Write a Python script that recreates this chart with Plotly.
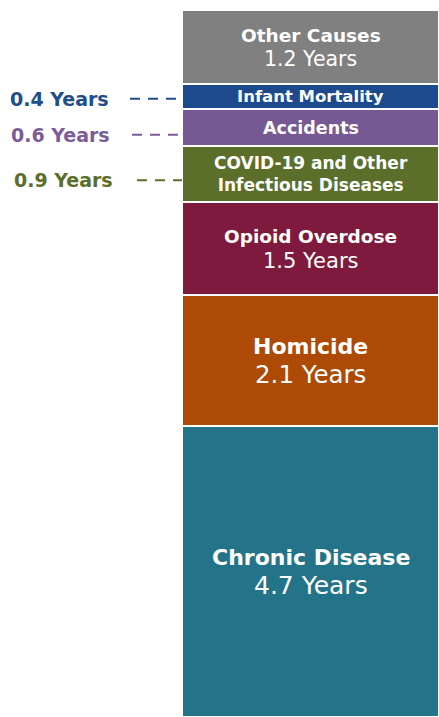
import plotly.graph_objects as go

categories = ["Chronic Disease", "Homicide", "Opioid Overdose",
              "COVID-19 and Other<br>Infectious Diseases", "Accidents",
              "Infant Mortality", "Other Causes"]
years = [4.7, 2.1, 1.5, 0.9, 0.6, 0.4, 1.2]
colors = ["#237489", "#AD4A06", "#7E1A3E", "#5B6E2A", "#765892", "#1C4A8C", "#808080"]
label_colors = ["#237489", "#AD4A06", "#7E1A3E", "#5B6E2A", "#7A5C98", "#1F4E8C", "#808080"]
show_years_inside = [True, True, True, False, False, False, True]
outside_label = [False, False, False, True, True, True, False]

# style (sizes in px)
name_sizes = [22, 22, 18.5, 17, 17.5, 16.5, 18.5]
year_sizes = [25, 24.5, 21, 0, 0, 0, 20.5]
line_gap = [28, 28, 25, 0, 0, 0, 24]
FONT = "DejaVu Sans"
W, H = 439, 717
BAR_LEFT_PX = 182
X_RANGE = [-0.5 - BAR_LEFT_PX / (W - BAR_LEFT_PX), 0.5]

def px2x(px):
    return X_RANGE[0] + px * (X_RANGE[1] - X_RANGE[0]) / W

dash_start_px = {0.4: 130, 0.6: 132, 0.9: 137}
label_right_px = {0.4: 111, 0.6: 112, 0.9: 115}
label_down_px = {0.4: 2, 0.6: 7, 0.9: 6}

total = sum(years)
Y_RANGE = [0, total * H / (H - 10)]
PX_PER_Y = H / (Y_RANGE[1] - Y_RANGE[0])

fig = go.Figure()
for c, v, col in zip(categories, years, colors):
    fig.add_trace(go.Bar(x=[0], y=[v], width=1,
                         marker=dict(color=col, line=dict(color="white", width=2)),
                         hoverinfo="skip", showlegend=False))

cum = 0
for i, (c, v, col) in enumerate(zip(categories, years, colors)):
    mid = cum + v / 2
    if show_years_inside[i]:
        g = line_gap[i] / 2
        fig.add_annotation(x=0, y=mid, yshift=g, text=f"<b>{c}</b>", showarrow=False,
                           font=dict(family=FONT, color="white", size=name_sizes[i]))
        fig.add_annotation(x=0, y=mid, yshift=-g, text=f"{v} Years", showarrow=False,
                           font=dict(family=FONT, color="white", size=year_sizes[i]))
    else:
        fig.add_annotation(x=0, y=mid, text=f"<b>{c}</b>", showarrow=False,
                           font=dict(family=FONT, color="white", size=name_sizes[i]))
    if outside_label[i]:
        ly = mid - label_down_px[v] / PX_PER_Y
        fig.add_shape(type="line", xref="x", yref="y", x0=px2x(dash_start_px[v]), x1=-0.5,
                      y0=ly, y1=ly, line=dict(color=label_colors[i], width=2, dash="10px,8px"))
        fig.add_annotation(x=px2x(label_right_px[v]), y=ly, text=f"<b>{v} Years</b>",
                           showarrow=False, xanchor="right",
                           font=dict(family=FONT, color=label_colors[i], size=19))
    cum += v

fig.update_layout(
    barmode="stack", width=W, height=H, margin=dict(l=0, r=0, t=0, b=0),
    plot_bgcolor="white", paper_bgcolor="white", bargap=0,
    xaxis=dict(range=X_RANGE, visible=False, fixedrange=True),
    yaxis=dict(range=Y_RANGE, visible=False, fixedrange=True),
)
fig.write_html("out.html", config={"displayModeBar": False},
               post_script="document.body.style.margin='0';document.body.style.overflow='hidden';")
